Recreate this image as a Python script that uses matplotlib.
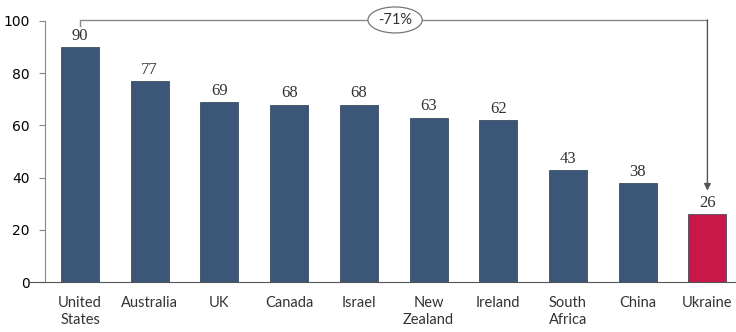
import matplotlib
matplotlib.use("Agg")
import matplotlib.pyplot as plt

countries = ["United\nStates", "Australia", "UK", "Canada", "Israel",
             "New\nZealand", "Ireland", "South\nAfrica", "China", "Ukraine"]
values = [90, 77, 69, 68, 68, 63, 62, 43, 38, 26]
yticks = [0, 20, 40, 60, 80, 100]
change_label = "-71%"

blue = "#3b5676"
red = "#c8184a"
colors = [blue] * (len(values) - 1) + [red]

fig = plt.figure(figsize=(7.36, 3.32), dpi=100)
# axes spans px 28..736 horizontally, y 0 at px 282, 100 at px 21
ax = fig.add_axes([28 / 736, 50 / 332, 708 / 736, 261 / 332])

x = list(range(len(values)))
ax.bar(x, values, width=0.545, color=colors, edgecolor="#2a3b50", linewidth=0.5, zorder=2)

for xi, v in zip(x, values):
    ax.text(xi, v + 1.2, str(v), ha="center", va="bottom",
            fontsize=12, family="Liberation Serif", color="#333333")

ax.set_xlim(-0.746, 9.41)
ax.set_ylim(0, 100)
ax.set_yticks(yticks)
ax.set_yticklabels([str(t) for t in yticks])
for lab in ax.get_yticklabels():
    lab.set_fontfamily("Liberation Serif")
    lab.set_fontsize(12.5)
    lab.set_color("#333333")
ax.set_xticks(x)
ax.set_xticklabels(countries, linespacing=1.3, va="top")
for lab in ax.get_xticklabels():
    lab.set_fontfamily("Lato")
    lab.set_fontsize(10.5)
    lab.set_color("#333333")
ax.tick_params(axis="x", length=0, pad=10)
ax.tick_params(axis="y", length=4, color="#888888", pad=7)

for s in ["top", "right"]:
    ax.spines[s].set_visible(False)
ax.spines["left"].set_position(("data", -0.5))
ax.spines["left"].set_bounds(0, 100)
ax.spines["left"].set_color("#888888")
ax.spines["bottom"].set_color("#555555")

# bracket from first to last bar
top = 100.4
ax.plot([0, 0, 9], [98.1, top, top], color="#888888", lw=1, clip_on=False, zorder=3)
ax.annotate("", xy=(9, 35.0), xytext=(9, top),
            arrowprops=dict(arrowstyle="-|>", color="#555555", lw=1, mutation_scale=10,
                            shrinkA=0, shrinkB=0),
            annotation_clip=False)
ax.text(4.52, top, change_label, ha="center", va="center", fontsize=10.5,
        family="Lato", color="#333333", zorder=4,
        bbox=dict(boxstyle="ellipse,pad=0.15", fc="white", ec="#777777", lw=0.9))

fig.savefig("out.png", dpi=100)
